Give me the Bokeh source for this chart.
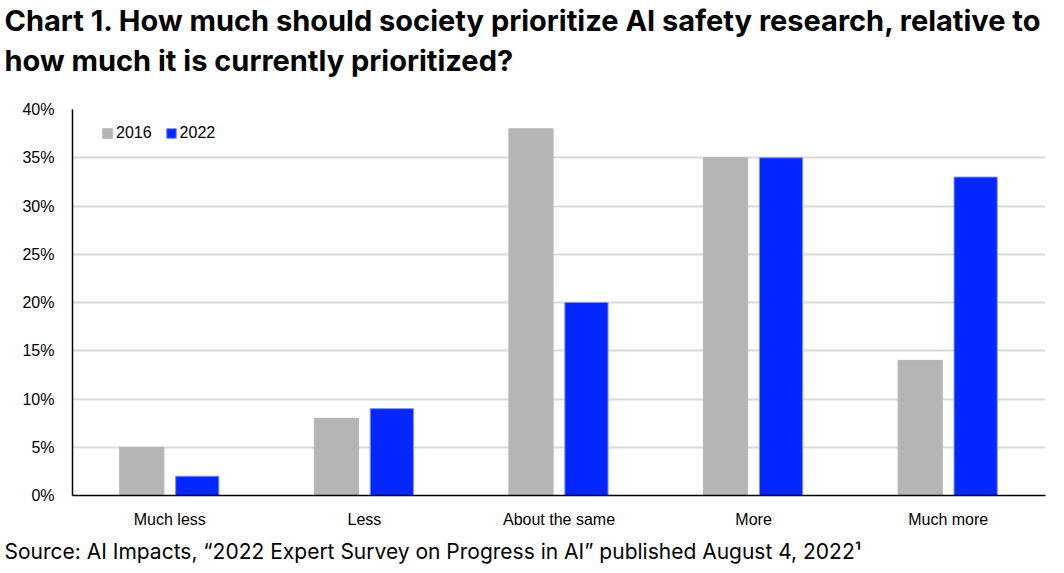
from bokeh.plotting import figure
from bokeh.models import FactorRange, Range1d, Title, Legend, LegendItem, PrintfTickFormatter, ColumnDataSource, FixedTicker
from bokeh.transform import dodge
from bokeh.embed import file_html
from bokeh.resources import INLINE

categories = ["Much less", "Less", "About the same", "More", "Much more"]
values_2016 = [5, 8, 38, 35, 14]
values_2022 = [2, 9, 20, 35, 33]
series_names = ["2016", "2022"]
y_ticks = [0, 5, 10, 15, 20, 25, 30, 35, 40]

title_text = "Chart 1. How much should society prioritize AI safety research, relative to\nhow much it is currently prioritized?"
source_text = "Source: AI Impacts, \u201c2022 Expert Survey on Progress in AI\u201d published August 4, 2022\u00b9"

source = ColumnDataSource(data=dict(cat=categories, v2016=values_2016, v2022=values_2022))

x_range = FactorRange(factors=categories, range_padding=0)
p = figure(x_range=x_range, y_range=Range1d(0, 40), width=1047, height=571,
           output_backend="svg", toolbar_location=None,
           min_border_left=72, min_border_right=2, min_border_top=108, min_border_bottom=76)
p.outline_line_color = None
p.background_fill_color = "white"
p.border_fill_color = "white"

r1 = p.vbar(x=dodge("cat", -0.144, range=p.x_range), top="v2016", width=0.227, source=source,
            fill_color="#b5b5b5", line_color="#b5b5b5", line_width=1)
r2 = p.vbar(x=dodge("cat", 0.141, range=p.x_range), top="v2022", width=0.222, source=source,
            fill_color="#0527ff", line_color="#7d8fff", line_width=1)

p.ygrid.grid_line_color = "#d9d9d9"
p.ygrid.grid_line_width = 2
p.xgrid.grid_line_color = None

p.yaxis.ticker = FixedTicker(ticks=y_ticks)
p.yaxis.formatter = PrintfTickFormatter(format="%d%%")
for ax in (p.xaxis[0], p.yaxis[0]):
    ax.axis_line_color = "black"
    ax.axis_line_width = 1.5
    ax.major_tick_line_color = None
    ax.minor_tick_line_color = None
    ax.major_label_text_font = "Liberation Sans"
    ax.major_label_text_font_size = "16px"
    ax.major_label_text_color = "black"
p.yaxis.major_label_standoff = 12
p.xaxis.major_label_standoff = 9

legend = Legend(items=[LegendItem(label=series_names[0], renderers=[r1]),
                       LegendItem(label=series_names[1], renderers=[r2])],
                orientation="horizontal",
                border_line_color=None, background_fill_alpha=0,
                label_text_font="Liberation Sans", label_text_font_size="16px",
                glyph_width=12, glyph_height=12, label_standoff=3, spacing=13,
                margin=0, padding=0)
legend.label_text_color = "black"
p.add_layout(legend, "center")
legend.location = (29, 353)

src = Title(text=source_text, align="left", text_font="Inter", text_font_size="21px",
            text_font_style="normal", text_color="black", offset=-68, standoff=13)
p.add_layout(src, "below")

spacer = Title(text=" ", text_font_size="1px", standoff=28)
p.add_layout(spacer, "above")

t = Title(text=title_text, align="left", text_font="Inter", text_font_size="29px",
          text_font_style="bold", text_color="black", offset=-68, standoff=0,
          text_line_height=1.17)
p.add_layout(t, "above")

open("out.html", "w").write(file_html(p, INLINE))
